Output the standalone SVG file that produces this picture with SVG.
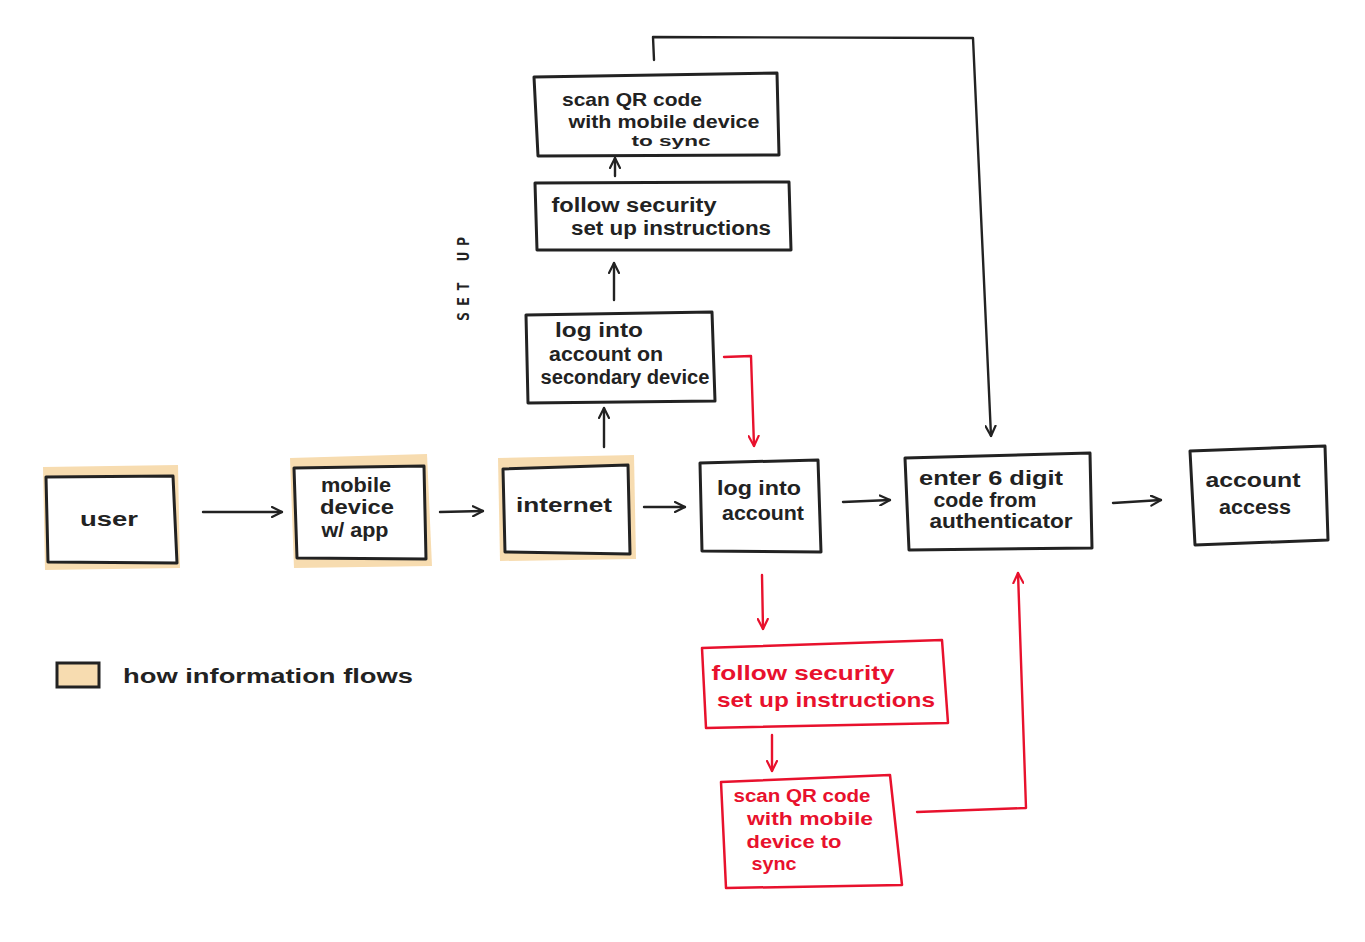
<svg xmlns="http://www.w3.org/2000/svg" width="1365" height="942" viewBox="0 0 1365 942">
<style>
.bx{fill:#fff;stroke:#222;stroke-width:3;stroke-linejoin:round}
.rbx{fill:#fff;stroke:#e8112d;stroke-width:2.5;stroke-linejoin:round}
.hl{fill:#f7dcb0}
.t{font-family:"Liberation Sans",Arial,sans-serif;font-size:20px;font-weight:bold;fill:#222}
.rt{font-family:"Liberation Sans",Arial,sans-serif;font-size:21px;font-weight:bold;fill:#e8112d}
.c{fill:none;stroke:#222;stroke-width:2.4;stroke-linecap:round;stroke-linejoin:round}
.rc{fill:none;stroke:#e8112d;stroke-width:2.4;stroke-linecap:round;stroke-linejoin:round}
</style>
<defs>
<marker id="ah" viewBox="0 0 12 12" refX="11" refY="6" markerWidth="12" markerHeight="12" markerUnits="userSpaceOnUse" orient="auto">
<path d="M1,1 L11,6 L1,11" fill="none" stroke="#222" stroke-width="2.2" stroke-linecap="round" stroke-linejoin="round"/>
</marker>
<marker id="rah" viewBox="0 0 12 12" refX="11" refY="6" markerWidth="12" markerHeight="12" markerUnits="userSpaceOnUse" orient="auto">
<path d="M1,1 L11,6 L1,11" fill="none" stroke="#e8112d" stroke-width="2.2" stroke-linecap="round" stroke-linejoin="round"/>
</marker>
</defs>
<rect width="1365" height="942" fill="#fff"/>

<g id="connectors">
<path class="c" d="M203,512 L282,512" marker-end="url(#ah)"/>
<path class="c" d="M440,512 L483,511" marker-end="url(#ah)"/>
<path class="c" d="M644,507 L685,507" marker-end="url(#ah)"/>
<path class="c" d="M843,502 L890,500" marker-end="url(#ah)"/>
<path class="c" d="M1113,503 L1161,500" marker-end="url(#ah)"/>
<path class="c" d="M604,447 L604,408" marker-end="url(#ah)"/>
<path class="c" d="M614,300 L614,263" marker-end="url(#ah)"/>
<path class="c" d="M615,176 L615,158" marker-end="url(#ah)"/>
<path class="c" d="M654,60 L653,37 L973,38 L991,436" marker-end="url(#ah)"/>
<path class="rc" d="M724,357 L751,356 L754,446" marker-end="url(#rah)"/>
<path class="rc" d="M762,575 L763,629" marker-end="url(#rah)"/>
<path class="rc" d="M772,735 L772,771" marker-end="url(#rah)"/>
<path class="rc" d="M917,812 L1026,808 L1018,573" marker-end="url(#rah)"/>
</g>

<g id="node-user">
<path class="hl" d="M43,467 L178,465 L180,568 L45,570 Z"/>
<path class="bx" d="M46,477 L173,476 L177,563 L48,562 Z"/>
<text class="t" x="109" y="526" text-anchor="middle" textLength="58" lengthAdjust="spacingAndGlyphs">user</text>
</g>

<g id="node-mobile">
<path class="hl" d="M290,458 L427,454 L432,566 L294,568 Z"/>
<path class="bx" d="M294,468 L424,466 L426,559 L297,558 Z"/>
<text class="t" x="356" y="492" text-anchor="middle" textLength="70" lengthAdjust="spacingAndGlyphs">mobile</text>
<text class="t" x="357" y="514" text-anchor="middle" textLength="74" lengthAdjust="spacingAndGlyphs">device</text>
<text class="t" x="355" y="537" text-anchor="middle" textLength="67" lengthAdjust="spacingAndGlyphs">w/ app</text>
</g>

<g id="node-internet">
<path class="hl" d="M498,458 L634,455 L636,559 L500,561 Z"/>
<path class="bx" d="M503,469 L628,465 L630,554 L505,552 Z"/>
<text class="t" x="564" y="512" text-anchor="middle" textLength="96" lengthAdjust="spacingAndGlyphs">internet</text>
</g>

<g id="node-login">
<path class="bx" d="M700,463 L818,460 L821,552 L702,551 Z"/>
<text class="t" x="759" y="495" text-anchor="middle" textLength="84" lengthAdjust="spacingAndGlyphs">log into</text>
<text class="t" x="763" y="520" text-anchor="middle" textLength="82" lengthAdjust="spacingAndGlyphs">account</text>
</g>

<g id="node-enter">
<path class="bx" d="M905,458 L1090,453 L1092,548 L909,550 Z"/>
<text class="t" x="991" y="485" text-anchor="middle" textLength="144" lengthAdjust="spacingAndGlyphs">enter 6 digit</text>
<text class="t" x="985" y="507" text-anchor="middle" textLength="103" lengthAdjust="spacingAndGlyphs">code from</text>
<text class="t" x="1001" y="528" text-anchor="middle" textLength="143" lengthAdjust="spacingAndGlyphs">authenticator</text>
</g>

<g id="node-access">
<path class="bx" d="M1190,451 L1325,446 L1328,540 L1195,545 Z"/>
<text class="t" x="1253" y="487" text-anchor="middle" textLength="95" lengthAdjust="spacingAndGlyphs">account</text>
<text class="t" x="1255" y="514" text-anchor="middle" textLength="72" lengthAdjust="spacingAndGlyphs">access</text>
</g>

<g id="node-secondary">
<path class="bx" d="M526,315 L712,312 L715,401 L528,403 Z"/>
<text class="t" x="599" y="337" text-anchor="middle" textLength="88" lengthAdjust="spacingAndGlyphs">log into</text>
<text class="t" x="606" y="361" text-anchor="middle" textLength="114" lengthAdjust="spacingAndGlyphs">account on</text>
<text class="t" x="625" y="384" text-anchor="middle" textLength="169" lengthAdjust="spacingAndGlyphs">secondary device</text>
</g>

<g id="node-follow-top">
<path class="bx" d="M535,183 L789,182 L791,250 L537,250 Z"/>
<text class="t" x="634" y="212" text-anchor="middle" textLength="165" lengthAdjust="spacingAndGlyphs">follow security</text>
<text class="t" x="671" y="235" text-anchor="middle" textLength="200" lengthAdjust="spacingAndGlyphs">set up instructions</text>
</g>

<g id="node-scan-top">
<path class="bx" d="M534,77 L777,73 L779,155 L538,156 Z"/>
<text class="t" x="632" y="106" text-anchor="middle" textLength="140" lengthAdjust="spacingAndGlyphs" style="font-size:19px">scan QR code</text>
<text class="t" x="664" y="128" text-anchor="middle" textLength="191" lengthAdjust="spacingAndGlyphs" style="font-size:19px">with mobile device</text>
<text class="t" x="671" y="146" text-anchor="middle" textLength="79" lengthAdjust="spacingAndGlyphs" style="font-size:15px">to sync</text>
</g>

<g id="node-follow-red">
<path class="rbx" d="M702,648 L942,640 L948,723 L706,728 Z"/>
<text class="rt" x="803" y="680" text-anchor="middle" textLength="183" lengthAdjust="spacingAndGlyphs">follow security</text>
<text class="rt" x="826" y="707" text-anchor="middle" textLength="218" lengthAdjust="spacingAndGlyphs">set up instructions</text>
</g>

<g id="node-scan-red">
<path class="rbx" d="M721,782 L890,775 L902,885 L726,888 Z"/>
<text class="rt" x="802" y="802" text-anchor="middle" textLength="137" lengthAdjust="spacingAndGlyphs" style="font-size:18px">scan QR code</text>
<text class="rt" x="810" y="825" text-anchor="middle" textLength="126" lengthAdjust="spacingAndGlyphs" style="font-size:18px">with mobile</text>
<text class="rt" x="794" y="848" text-anchor="middle" textLength="95" lengthAdjust="spacingAndGlyphs" style="font-size:18px">device to</text>
<text class="rt" x="774" y="870" text-anchor="middle" textLength="45" lengthAdjust="spacingAndGlyphs" style="font-size:18px">sync</text>
</g>

<g id="label-setup">
<text class="t" transform="translate(469,279) rotate(-90)" text-anchor="middle" style="font-size:15px;font-family:'DejaVu Sans Mono',monospace" textLength="84" lengthAdjust="spacing">SET UP</text>
</g>

<g id="legend">
<rect x="57" y="663" width="42" height="24" fill="#f7dcb0" stroke="#222" stroke-width="3"/>
<text class="t" x="123" y="683" textLength="290" lengthAdjust="spacingAndGlyphs">how information flows</text>
</g>
</svg>
